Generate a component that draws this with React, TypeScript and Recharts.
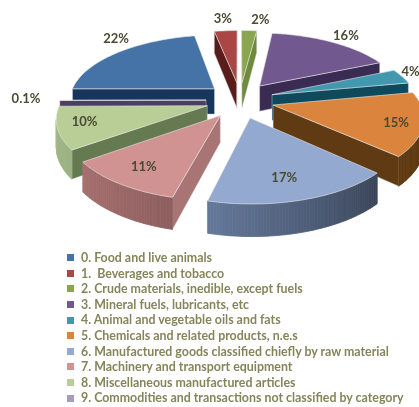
import { PieChart, Pie, Legend } from 'recharts';

const categories = [
  '0. Food and live animals',
  '1.  Beverages and tobacco',
  '2. Crude materials, inedible, except fuels',
  '3. Mineral fuels, lubricants, etc',
  '4. Animal and vegetable oils and fats',
  '5. Chemicals and related products, n.e.s',
  '6. Manufactured goods classified chiefly by raw material',
  '7. Machinery and transport equipment',
  '8. Miscellaneous manufactured articles',
  '9. Commodities and transactions not classified by category',
];
const shares = [22, 3, 2, 16.4, 3.6, 15, 17, 11, 10, 0.1];
const shareLabels = ['22%', '3%', '2%', '16%', '4%', '15%', '17%', '11%', '10%', '0.1%'];
const topColors = ['#4572a7', '#aa4643', '#89a54e', '#71588f', '#4198af', '#db843d', '#93a9cf', '#d19392', '#b9cd96', '#a99bbd'];
const cutColors = ['#17365d', '#5a1c1b', '#6f8a3c', '#3a2b52', '#0f4a5c', '#5f3a12', '#4f5f80', '#a87474', '#667a52', '#4a3f5e'];
const wallColors = ['#1f3f69', '#632221', '#5f7a33', '#3f2f5a', '#14505f', '#5f3a12', '#65799b', '#a87070', '#a8bf8c', '#6a5d80'];
const wallFade = [0, 0, 0, 0, 0, 0.05, 0.42, 0.15, 0.08, 0];
// label anchor: radius fraction of the slice, then a pixel nudge
const labelRadius = [1.08, 1.2, 1.2, 0.98, 1.16, 0.78, 0.68, 0.68, 0.82, 1.3];
const labelNudge = [[6, -12], [-1, -4], [10, -3], [15, -8], [-11, -3], [7, 2], [0, 7], [-11, 6], [-1, -3], [10, -2]];

// which slices go in which paint layer, back to front
const layers = [[0, 1, 2, 3, 4, 5], [9], [8], [7], [6]];

const R = 146;
const tilt = 0.45;
const persp = 0.16;
const depth = 26;
const explodeX = 34;
const explodeY = 40;

const rad = (a: number) => (a * Math.PI) / 180;

function project(cx: number, cy: number, x: number, y: number, drop = 0) {
  const s = 1 / (1 - (persp * y) / R);
  return [cx + x * s, cy + y * tilt * s + drop * s] as const;
}

const toPath = (pts: readonly (readonly [number, number])[]) =>
  'M' + pts.map((p) => `${p[0].toFixed(1)} ${p[1].toFixed(1)}`).join('L') + 'Z';

const area = (pts: readonly (readonly [number, number])[]) => {
  let sum = 0;
  pts.forEach((p, i) => {
    const q = pts[(i + 1) % pts.length];
    sum += p[0] * q[1] - q[0] * p[1];
  });
  return sum;
};

function mixDark(hex: string, k: number) {
  const n = parseInt(hex.slice(1), 16);
  const f = (v: number) => Math.round(v * k);
  return `rgb(${f((n >> 16) & 255)},${f((n >> 8) & 255)},${f(n & 255)})`;
}

function slice3d(layer: number[]) {
  return (props: any) => {
    const { cx, cy, startAngle, endAngle, index } = props;
    if (!layer.includes(index)) return <g />;
    const mid = (startAngle + endAngle) / 2;
    const ox = explodeX * Math.cos(rad(mid));
    const oy = -explodeY * Math.sin(rad(mid));
    const steps = Math.max(2, Math.ceil(Math.abs(startAngle - endAngle)));
    const arc: [number, number][] = [];
    for (let i = 0; i <= steps; i++) {
      const a = startAngle + ((endAngle - startAngle) * i) / steps;
      arc.push([ox + R * Math.cos(rad(a)), oy - R * Math.sin(rad(a))]);
    }
    const top = arc.map((p) => project(cx, cy, p[0], p[1]));
    const bot = arc.map((p) => project(cx, cy, p[0], p[1], depth));
    const tipTop = project(cx, cy, ox, oy);
    const tipBot = project(cx, cy, ox, oy, depth);

    const startWall = [top[0], tipTop, tipBot, bot[0]];
    const endWall = [tipTop, top[steps], bot[steps], tipBot];
    const strips: any[] = [];
    for (let i = 0; i < steps; i++) {
      const q = [top[i + 1], top[i], bot[i], bot[i + 1]];
      if (area(q) <= 0) continue;
      // arcs run right to left along the front, so shade from the far end
      const fill = mixDark(wallColors[index], 1 - (wallFade[index] * (steps - i)) / steps);
      strips.push(<path key={i} d={toPath(q)} fill={fill} stroke={fill} strokeWidth={0.8} />);
    }
    const lr = labelRadius[index] * R;
    const lp = project(cx, cy, ox + lr * Math.cos(rad(mid)), oy - lr * Math.sin(rad(mid)));

    return (
      <g>
        {area(startWall) > 0 && <path d={toPath(startWall)} fill={cutColors[index]} stroke="#d8dde0" strokeWidth={0.4} />}
        {area(endWall) > 0 && <path d={toPath(endWall)} fill={cutColors[index]} stroke="#d8dde0" strokeWidth={0.4} />}
        {strips}
        <path d={toPath([tipTop, ...top])} fill={topColors[index]} stroke="#e6e6e6" strokeWidth={0.6} />
        <text x={lp[0] + labelNudge[index][0]} y={lp[1] + labelNudge[index][1]} textAnchor="middle" dominantBaseline="central"
          fontFamily="Lato, sans-serif" fontWeight={700} fontSize={13} fill="#4a4a32">
          {shareLabels[index]}
        </text>
      </g>
    );
  };
}

const pieData = categories.map((name, i) => ({ name, value: shares[i], fill: topColors[i] }));

function LegendList() {
  return (
    <ul style={{ listStyle: 'none', margin: 0, padding: 0 }}>
      {categories.map((name, i) => (
        <li key={name} style={{ height: 15.6, lineHeight: '15.6px', whiteSpace: 'pre', display: 'flex', alignItems: 'center' }}>
          <span style={{ width: 7, height: 7, background: topColors[i], marginRight: 7, flex: 'none' }} />
          <span style={{ color: '#85855c', fontFamily: 'Lato, sans-serif', fontWeight: 700, fontSize: 12.4 }}>{name}</span>
        </li>
      ))}
    </ul>
  );
}

export default function App() {
  return (
    <div style={{ position: 'absolute', left: 0, top: 0, width: 419, height: 407, overflow: 'hidden', background: '#fff', filter: 'blur(0.35px)' }}>
      <PieChart width={419} height={407} margin={{ top: 0, right: 0, bottom: 0, left: 0 }}>
        {layers.map((layer, i) => {
          const draw = slice3d(layer);
          return (
            <Pie
              key={i}
              data={pieData}
              dataKey="value"
              nameKey="name"
              cx={240}
              cy={100}
              outerRadius={R}
              startAngle={180}
              endAngle={-180}
              stroke="none"
              legendType="none"
              shape={draw}
              inactiveShape={draw}
              activeShape={draw}
              isAnimationActive={false}
            />
          );
        })}
        <Legend
          layout="vertical"
          content={() => <LegendList />}
          wrapperStyle={{ position: 'absolute', left: 67, top: 250, width: 352 }}
        />
      </PieChart>
    </div>
  );
}
